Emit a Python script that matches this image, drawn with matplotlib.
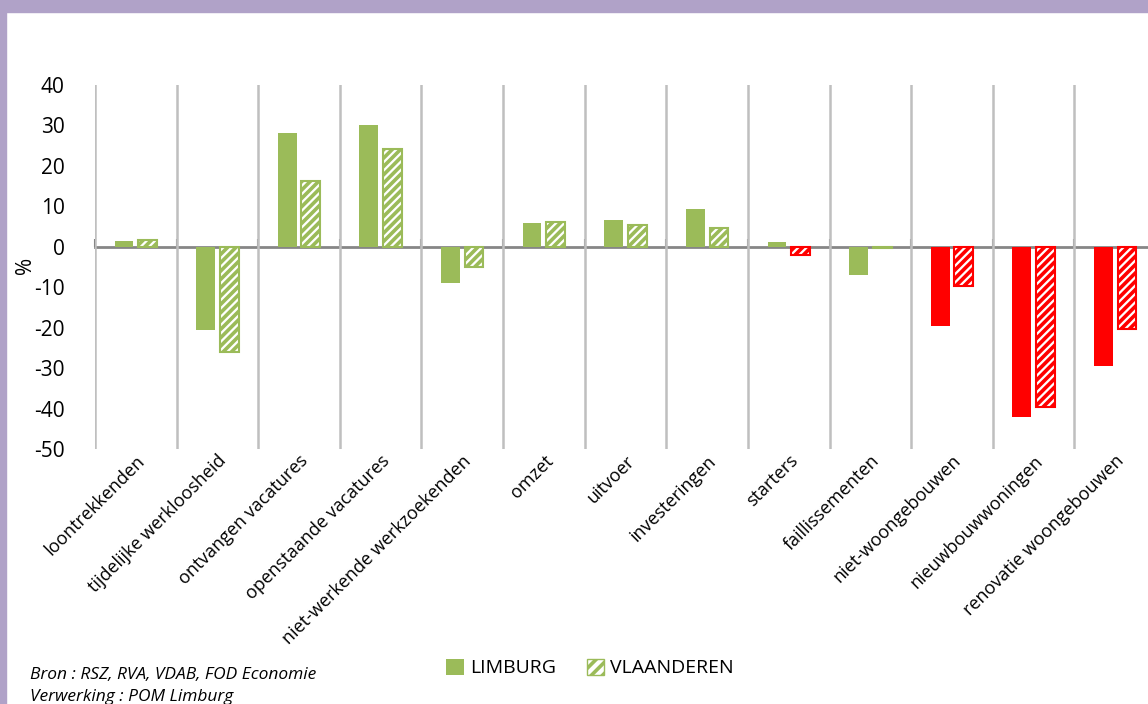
import matplotlib.pyplot as plt
import numpy as np
from matplotlib.patches import Rectangle, Patch

plt.rcParams['font.family'] = ['Open Sans', 'DejaVu Sans']
plt.rcParams['hatch.linewidth'] = 2.6
plt.rcParams['axes.unicode_minus'] = False

# indicatoren
categorieen = ['loontrekkenden', 'tijdelijke werkloosheid', 'ontvangen vacatures',
               'openstaande vacatures', 'niet-werkende werkzoekenden', 'omzet', 'uitvoer',
               'investeringen', 'starters', 'faillissementen', 'niet-woongebouwen',
               'nieuwbouwwoningen', 'renovatie woongebouwen']
limburg = [1.5, -20.5, 28.1, 30.1, -9.0, 6.0, 6.7, 9.4, 1.3, -7.0, -19.5, -42.2, -29.4]
vlaanderen = [1.6, -26.0, 16.3, 24.2, -5.0, 6.2, 5.4, 4.7, -2.0, -0.3, -9.8, -39.7, -20.3]
kleur_limburg = ['g'] * 10 + ['r'] * 3
kleur_vlaanderen = ['g'] * 8 + ['r', 'g'] + ['r'] * 3

groen = '#9BBB59'
rood = '#FF0000'
kleuren = {'g': groen, 'r': rood}

fig = plt.figure(figsize=(11.48, 7.04), dpi=100)
ax = fig.add_axes([95 / 1148, 1 - 449 / 704, 1061 / 1148, 364 / 704])

x = np.arange(len(categorieen))
b = 0.23
ax.bar(x - 0.145, limburg, b, color=[kleuren[c] for c in kleur_limburg], zorder=3)
ax.bar(x + 0.145, vlaanderen, b, color='white',
       edgecolor=[kleuren[c] for c in kleur_vlaanderen], hatch='////', linewidth=1.5, zorder=3)

ax.set_xlim(-0.5, len(categorieen) - 0.5)
ax.set_ylim(-50, 40)
ax.set_yticks(range(-50, 41, 10))
ax.tick_params(axis='y', length=0, labelsize=15, pad=22)
ax.set_ylabel('%', fontsize=15)
ax.yaxis.set_label_coords(-0.056, 0.505)

# verticale rasterlijnen tussen categorieen
ax.set_xticks(x - 0.5, minor=True)
ax.grid(axis='x', which='minor', color='#BFBFBF', linewidth=1.8, zorder=1)
ax.set_xticks(x)
ax.set_xticklabels(categorieen, rotation=45, ha='right', rotation_mode='anchor', fontsize=13)
ax.tick_params(axis='x', which='both', length=0, pad=2)
for s in ax.spines.values():
    s.set_visible(False)

# nullijn
nul = ax.secondary_xaxis(50 / 90)
nul.set_xticks(x - 0.5)
nul.set_xticklabels([])
nul.tick_params(direction='out', length=6, width=1.5, color='#868686')
for s in nul.spines.values():
    s.set_color('#868686')
    s.set_linewidth(2)

# legenda
handles = [Patch(facecolor=groen, label='LIMBURG'),
           Patch(facecolor='white', edgecolor=groen, hatch='///', label='VLAANDEREN')]
fig.legend(handles=handles, loc='center', bbox_to_anchor=(0.514, 0.051), ncol=2,
           frameon=False, fontsize=14, handlelength=0.9, handleheight=0.9,
           handletextpad=0.3, columnspacing=1.6)

fig.text(30 / 1148, 1 - 675 / 704, 'Bron : RSZ, RVA, VDAB, FOD Economie', fontsize=12.5,
         style='italic', va='center')
fig.text(30 / 1148, 1 - 697 / 704, 'Verwerking : POM Limburg', fontsize=12.5,
         style='italic', va='center')

# paars kader
fig.patches.append(Rectangle((0, 1 - 12 / 704), 1, 12 / 704, transform=fig.transFigure,
                             color='#B0A2C8', zorder=0))
fig.patches.append(Rectangle((0, 0), 6 / 1148, 1, transform=fig.transFigure,
                             color='#B0A2C8', zorder=0))

fig.savefig('out.png', dpi=100)
